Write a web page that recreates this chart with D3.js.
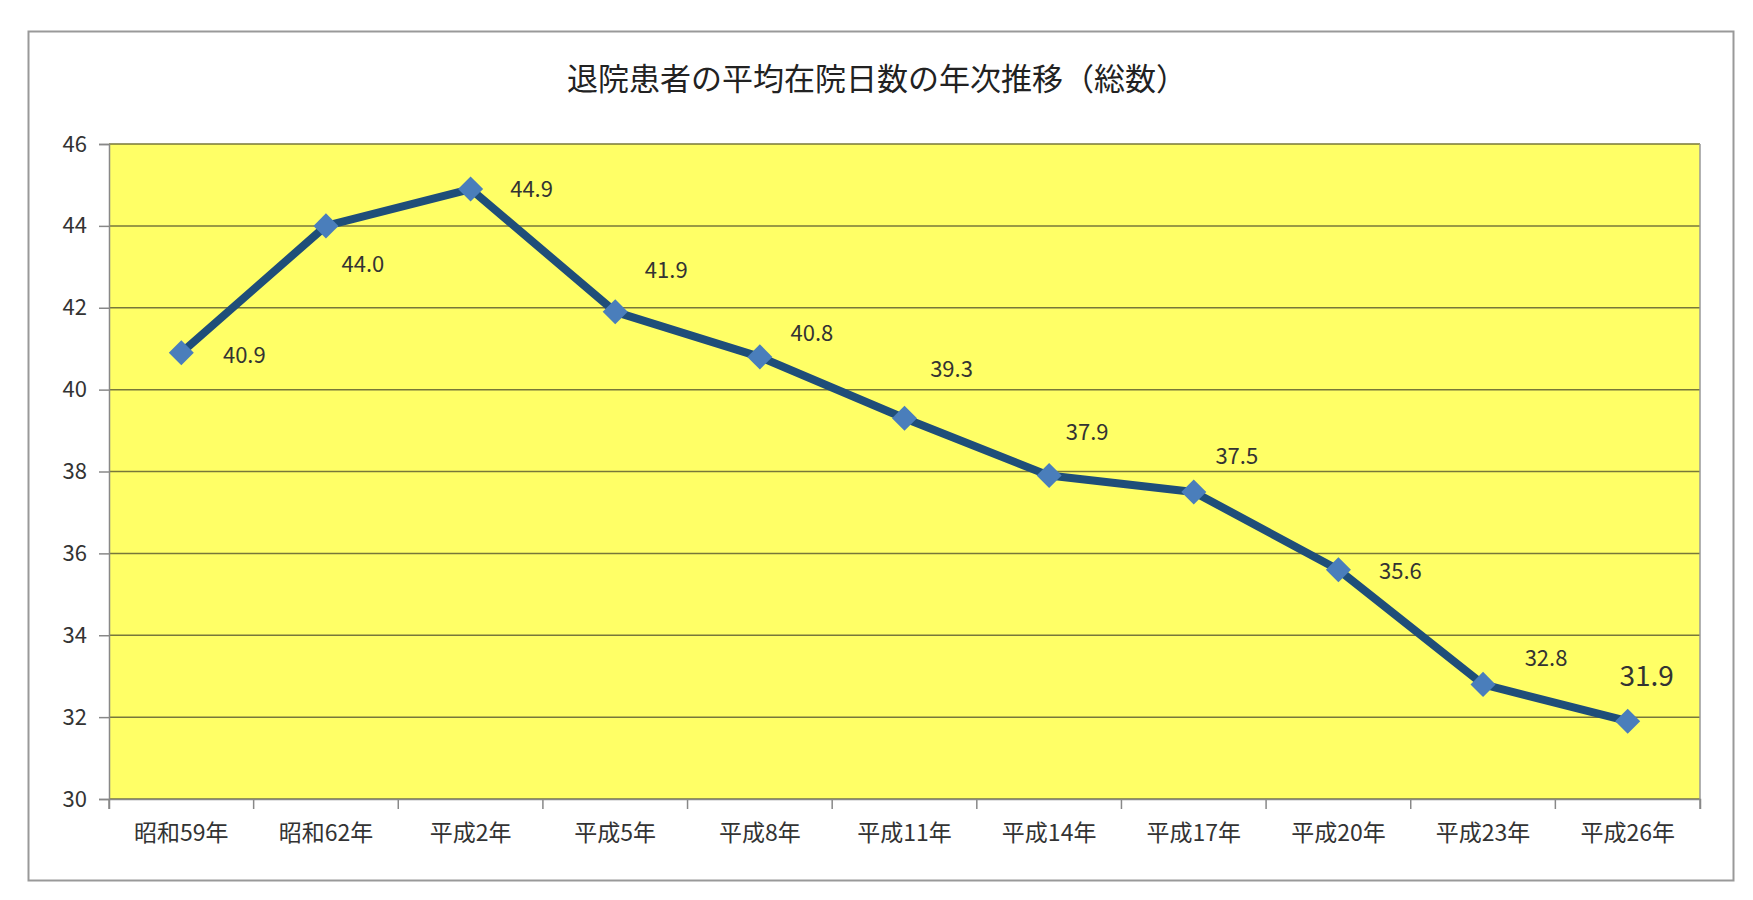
<!DOCTYPE html>
<meta charset="utf-8">
<script src="https://d3js.org/d3.v7.min.js"></script>
<style>
body { margin: 0; background: #fff; }
text { font-family: "Noto Sans CJK JP", "Noto Sans", sans-serif; }
</style>
<div id="chart"></div>
<script>
// Data
const categories = ["昭和59年", "昭和62年", "平成2年", "平成5年", "平成8年", "平成11年",
                    "平成14年", "平成17年", "平成20年", "平成23年", "平成26年"];
const days = [40.9, 44.0, 44.9, 41.9, 40.8, 39.3, 37.9, 37.5, 35.6, 32.8, 31.9];
const yTicks = [30, 32, 34, 36, 38, 40, 42, 44, 46];

// label placement relative to each point (layout only)
const labelOffsets = [[63, 4], [37, 40], [61, 2], [51, -40], [52, -22], [47, -47],
                      [38, -42], [43, -34], [62, 3], [63, -24], [19, -43]];

const W = 1753, H = 900;
const margin = {top: 144, right: 53, bottom: 101, left: 109};
const width = W - margin.left - margin.right,
      height = H - margin.top - margin.bottom;

const root = d3.select("#chart").append("svg")
  .attr("width", W).attr("height", H);

root.append("rect")
  .attr("x", 28.5).attr("y", 31.5).attr("width", 1705).attr("height", 849)
  .attr("fill", "#fff").attr("stroke", "#999").attr("stroke-width", 2);

root.append("text")
  .attr("x", 877).attr("y", 90)
  .attr("text-anchor", "middle")
  .style("font-size", "31px").style("fill", "#222")
  .text("退院患者の平均在院日数の年次推移（総数）");

const svg = root.append("g")
  .attr("transform", `translate(${margin.left}, ${margin.top})`);

const x = d3.scaleBand().domain(categories).range([0, width]);
const y = d3.scaleLinear().domain([30, 46]).range([height, 0]);

svg.append("rect")
  .attr("width", width).attr("height", height)
  .attr("fill", "#ffff66");

// grid lines
svg.append("g")
  .selectAll("line")
  .data(yTicks)
  .join("line")
    .attr("x1", 0).attr("x2", width)
    .attr("y1", d => y(d)).attr("y2", d => y(d))
    .attr("stroke", "#77773a").attr("stroke-width", 1.5);

svg.append("line")
  .attr("x1", width).attr("x2", width).attr("y1", 0).attr("y2", height)
  .attr("stroke", "#999").attr("stroke-width", 1.5);

const yAxis = svg.append("g")
  .call(d3.axisLeft(y).tickValues(yTicks).tickSize(10).tickPadding(12));
const xAxis = svg.append("g")
  .attr("transform", `translate(0, ${height})`)
  .call(d3.axisBottom(x).tickSize(10).tickPadding(16));
xAxis.selectAll(".tick line").attr("transform", `translate(${-x.bandwidth() / 2}, 0)`);
xAxis.append("line")
  .attr("x1", width).attr("x2", width).attr("y1", 0).attr("y2", 10)
  .attr("stroke", "#888");
[yAxis, xAxis].forEach(a => {
  a.selectAll("path, line").attr("stroke", "#888").attr("stroke-width", 1.5);
  a.selectAll("text").style("font-size", "22px").style("fill", "#333")
    .style("font-family", "\"Noto Sans CJK JP\", sans-serif");
});
xAxis.selectAll("text").style("font-size", "23px");

const line = d3.line()
  .x((d, i) => x(categories[i]) + x.bandwidth() / 2)
  .y(d => y(d));

svg.append("path")
  .datum(days)
  .attr("d", line)
  .attr("fill", "none")
  .attr("stroke", "#1f4e79")
  .attr("stroke-width", 8)
  .attr("stroke-linejoin", "round");

svg.append("g")
  .selectAll("path")
  .data(days)
  .join("path")
    .attr("d", d3.symbol(d3.symbolDiamond2, 26 * 26 / 2 * 1.0).size(400))
    .attr("transform", (d, i) => `translate(${x(categories[i]) + x.bandwidth() / 2}, ${y(d)}) rotate(0)`)
    .attr("fill", "#4a7ebb");

svg.append("g")
  .selectAll("text")
  .data(days)
  .join("text")
    .attr("x", (d, i) => x(categories[i]) + x.bandwidth() / 2 + labelOffsets[i][0])
    .attr("y", (d, i) => y(d) + labelOffsets[i][1])
    .attr("text-anchor", "middle")
    .attr("dominant-baseline", "middle")
    .style("font-size", (d, i) => i === days.length - 1 ? "28px" : "22px")
    .style("fill", "#333")
    .text(d => d.toFixed(1));
</script>
